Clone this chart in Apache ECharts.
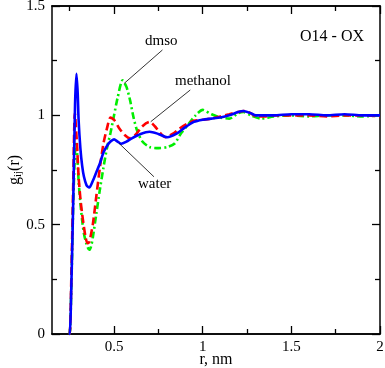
<!DOCTYPE html>
<html>
<head>
<meta charset="utf-8">
<script src="https://cdn.jsdelivr.net/npm/echarts@6/dist/echarts.min.js"></script>
<style>
  html, body { margin: 0; padding: 0; background: #fff; }
  #chart { width: 385px; height: 368px; }
</style>
</head>
<body>
<div id="chart"></div>
<script>
// g_ij(r) for O14 - OX
var waterR = [0.245, 0.25, 0.26, 0.27, 0.28, 0.288, 0.295, 0.30, 0.31, 0.32, 0.33, 0.345, 0.36, 0.38, 0.40, 0.42, 0.44, 0.46, 0.48, 0.50, 0.52, 0.54, 0.57, 0.60, 0.65, 0.70, 0.75, 0.80, 0.85, 0.90, 0.95, 1.00, 1.05, 1.10, 1.15, 1.20, 1.23, 1.27, 1.30, 1.40, 1.50, 1.60, 1.70, 1.80, 1.90, 2.00];
var waterG = [0, 0, 0.25, 0.62, 1.05, 1.19, 1.10, 0.98, 0.85, 0.77, 0.72, 0.68, 0.67, 0.70, 0.74, 0.78, 0.83, 0.86, 0.88, 0.89, 0.88, 0.87, 0.88, 0.895, 0.915, 0.925, 0.915, 0.90, 0.915, 0.945, 0.97, 0.98, 0.985, 0.99, 1.00, 1.015, 1.02, 1.01, 1.00, 1.00, 1.005, 1.005, 1.00, 1.005, 1.00, 1.00];

var methR = [0.245, 0.25, 0.26, 0.27, 0.279, 0.29, 0.30, 0.31, 0.32, 0.33, 0.34, 0.35, 0.36, 0.38, 0.40, 0.42, 0.44, 0.46, 0.48, 0.50, 0.53, 0.56, 0.59, 0.62, 0.66, 0.70, 0.73, 0.76, 0.79, 0.83, 0.87, 0.91, 0.95, 1.00, 1.05, 1.10, 1.15, 1.20, 1.23, 1.27, 1.30, 1.35, 1.40, 1.50, 1.60, 1.70, 1.80, 1.90, 2.00];
var methG = [0, 0, 0.30, 0.70, 1.01, 0.88, 0.72, 0.62, 0.55, 0.49, 0.44, 0.415, 0.42, 0.50, 0.63, 0.76, 0.87, 0.94, 0.99, 0.98, 0.94, 0.91, 0.895, 0.91, 0.95, 0.97, 0.95, 0.92, 0.90, 0.915, 0.94, 0.96, 0.975, 0.98, 0.985, 0.995, 1.005, 1.015, 1.02, 1.01, 0.995, 0.995, 1.00, 1.00, 1.00, 0.995, 1.00, 1.00, 0.995];

var dmsoR = [0.245, 0.25, 0.26, 0.27, 0.28, 0.286, 0.295, 0.30, 0.31, 0.32, 0.33, 0.345, 0.36, 0.37, 0.38, 0.40, 0.42, 0.44, 0.46, 0.48, 0.50, 0.52, 0.548, 0.57, 0.59, 0.61, 0.63, 0.66, 0.70, 0.75, 0.80, 0.84, 0.88, 0.92, 0.96, 1.00, 1.05, 1.10, 1.15, 1.20, 1.23, 1.27, 1.33, 1.40, 1.50, 1.60, 1.70, 1.80, 1.90, 2.00];
var dmsoG = [0, 0, 0.25, 0.60, 0.84, 0.88, 0.78, 0.70, 0.60, 0.52, 0.46, 0.41, 0.385, 0.40, 0.44, 0.55, 0.66, 0.76, 0.85, 0.92, 1.00, 1.08, 1.16, 1.13, 1.07, 0.99, 0.93, 0.88, 0.855, 0.85, 0.855, 0.87, 0.92, 0.96, 1.00, 1.025, 1.005, 0.99, 0.985, 1.01, 1.015, 1.00, 0.985, 0.995, 1.00, 0.995, 1.00, 1.00, 0.995, 1.00];

var xMajor = [0.5, 1, 1.5, 2];
var xMinor = [0.25, 0.75, 1.25, 1.75];

// leader lines for the curve labels, [r, g] pairs
var dmsoLeader = [[0.557, 1.146], [0.773, 1.299]];
var methLeader = [[0.707, 0.971], [0.93, 1.116]];
var waterLeader = [[0.528, 0.872], [0.725, 0.719]];

function pairs(xs, ys) {
  var out = [];
  for (var i = 0; i < xs.length; i++) out.push([xs[i], ys[i]]);
  return out;
}

function leader(seg) {
  return [{ coord: seg[0] }, { coord: seg[1] }];
}

var font = 'Liberation Serif';
var black = '#000';

function xAxisDef(pos, ticks, len, labels) {
  return {
    type: 'value', position: pos, min: 0.15, max: 2,
    gridIndex: 0,
    axisLine: { show: true, onZero: false, lineStyle: { color: black, width: 1.5 } },
    axisTick: { show: true, inside: true, length: len, customValues: ticks, lineStyle: { color: black, width: 1.3 } },
    axisLabel: labels ? {
      show: true, customValues: ticks, margin: 6, color: black,
      fontFamily: font, fontSize: 15
    } : { show: false },
    splitLine: { show: false }
  };
}

function yAxisDef(pos, labels) {
  return {
    type: 'value', position: pos, min: 0, max: 1.5, interval: 0.5,
    axisLine: { show: true, onZero: false, lineStyle: { color: black, width: 1.5 } },
    axisTick: { show: true, inside: true, length: 8, lineStyle: { color: black, width: 1.3 } },
    minorTick: { show: true, splitNumber: 2, length: 5, lineStyle: { color: black, width: 1.3 } },
    axisLabel: labels ? {
      show: true, margin: 7, color: black, fontFamily: font, fontSize: 15
    } : { show: false },
    splitLine: { show: false },
    minorSplitLine: { show: false }
  };
}

var chart = echarts.init(document.getElementById('chart'), null, { renderer: 'canvas' });

var xBottom = xAxisDef('bottom', xMajor, 8, true);
xBottom.name = 'r, nm';
xBottom.nameLocation = 'middle';
xBottom.nameGap = 18;
xBottom.nameMoveOverlap = false;
xBottom.nameTextStyle = { color: black, fontFamily: font, fontSize: 16 };

var yLeft = yAxisDef('left', true);
yLeft.name = 'g{sub|ij}(r)';
yLeft.nameLocation = 'middle';
yLeft.nameGap = 28;
yLeft.nameMoveOverlap = false;
yLeft.nameTextStyle = {
  color: black, fontFamily: font, fontSize: 16,
  rich: { sub: { fontSize: 11, verticalAlign: 'bottom', padding: [8, 0, 0, 0], fontFamily: font, color: black } }
};

var option = {
  animation: false,
  backgroundColor: '#fff',
  grid: { left: 52, right: 5, top: 6, bottom: 34, containLabel: false, outerBoundsMode: 'none' },
  xAxis: [
    xBottom,
    xAxisDef('bottom', xMinor, 5, false),
    xAxisDef('top', xMajor, 8, false),
    xAxisDef('top', xMinor, 5, false)
  ],
  yAxis: [
    yLeft,
    yAxisDef('right', false)
  ],
  title: {
    text: 'O14 - OX',
    left: 295, top: 24,
    textStyle: { color: black, fontFamily: font, fontSize: 16, fontWeight: 'normal' }
  },
  graphic: [
    { type: 'text', left: 145, top: 34, style: { text: 'dmso', fill: black, font: '15px ' + font } },
    { type: 'text', left: 175, top: 74, style: { text: 'methanol', fill: black, font: '15px ' + font } },
    { type: 'text', left: 138, top: 177, style: { text: 'water', fill: black, font: '15px ' + font } }
  ],
  series: [
    {
      name: 'dmso', type: 'line', xAxisIndex: 0, yAxisIndex: 0,
      data: pairs(dmsoR, dmsoG), showSymbol: false, smooth: 0.25, z: 2,
      lineStyle: { color: '#00ee00', width: 2.6, type: [7, 3, 2, 3] }
    },
    {
      name: 'methanol', type: 'line', xAxisIndex: 0, yAxisIndex: 0,
      data: pairs(methR, methG), showSymbol: false, smooth: 0.25, z: 3,
      lineStyle: { color: '#ff0000', width: 2.6, type: [8, 4] }
    },
    {
      name: 'water', type: 'line', xAxisIndex: 0, yAxisIndex: 0,
      data: pairs(waterR, waterG), showSymbol: false, smooth: 0.25, z: 4,
      lineStyle: { color: '#0000ff', width: 2.6 },
      markLine: {
        silent: true, symbol: ['none', 'none'], animation: false,
        lineStyle: { color: black, width: 0.8, type: 'solid' },
        label: { show: false },
        data: [leader(dmsoLeader), leader(methLeader), leader(waterLeader)]
      }
    }
  ]
};

chart.setOption(option);
</script>
</body>
</html>
